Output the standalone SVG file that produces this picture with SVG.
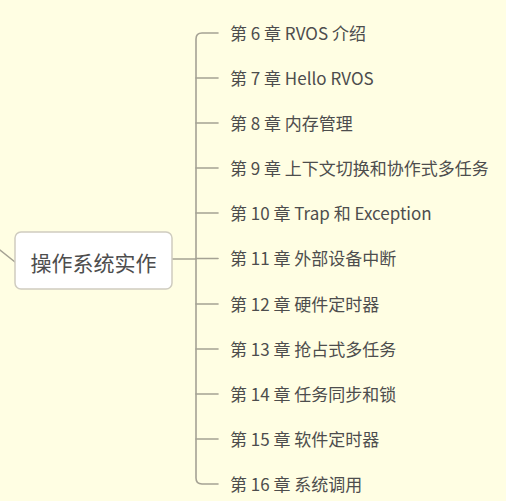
<svg xmlns="http://www.w3.org/2000/svg" width="506" height="501" viewBox="0 0 506 501">
<style>
.bg{fill:#fffee3}
.ln{fill:none;stroke:#a5a294;stroke-width:1.6;stroke-linecap:round}
.node rect{fill:#ffffff;stroke:#cfccc0;stroke-width:1.5}
.t{font-family:"Microsoft YaHei","Noto Sans CJK SC","Noto Sans",sans-serif;font-size:17px;fill:#4d4d4d}
.rt{font-family:"Microsoft YaHei","Noto Sans CJK SC","Noto Sans",sans-serif;font-size:21px;fill:#4d4d4d;text-anchor:middle}
</style>
<rect class="bg" x="0" y="0" width="506" height="501"/>
<g id="connectors">
<path class="ln" d="M0 250 L15 262"/>
<path class="ln" d="M172 259 L196 259"/>
<path class="ln" d="M218 33 L202 33 Q196 33 196 39 L196 478 Q196 484 202 484 L218 484"/>
<path class="ln" d="M196 78 L218 78"/>
<path class="ln" d="M196 123 L218 123"/>
<path class="ln" d="M196 168 L218 168"/>
<path class="ln" d="M196 213 L218 213"/>
<path class="ln" d="M196 258.5 L218 258.5"/>
<path class="ln" d="M196 304 L218 304"/>
<path class="ln" d="M196 349 L218 349"/>
<path class="ln" d="M196 394 L218 394"/>
<path class="ln" d="M196 439 L218 439"/>
</g>
<g id="root" class="node">
<rect x="15" y="232" width="157" height="57" rx="6"/>
<text class="rt" x="93.5" y="270.5">操作系统实作</text>
</g>
<g id="ch6"><text class="t" x="230" y="39.5">第 6 章 RVOS 介绍</text></g>
<g id="ch7"><text class="t" x="230" y="84.5">第 7 章 Hello RVOS</text></g>
<g id="ch8"><text class="t" x="230" y="129.5">第 8 章 内存管理</text></g>
<g id="ch9"><text class="t" x="230" y="174.5">第 9 章 上下文切换和协作式多任务</text></g>
<g id="ch10"><text class="t" x="230" y="219.5">第 10 章 Trap 和 Exception</text></g>
<g id="ch11"><text class="t" x="230" y="265">第 11 章 外部设备中断</text></g>
<g id="ch12"><text class="t" x="230" y="310.5">第 12 章 硬件定时器</text></g>
<g id="ch13"><text class="t" x="230" y="355.5">第 13 章 抢占式多任务</text></g>
<g id="ch14"><text class="t" x="230" y="400.5">第 14 章 任务同步和锁</text></g>
<g id="ch15"><text class="t" x="230" y="445.5">第 15 章 软件定时器</text></g>
<g id="ch16"><text class="t" x="230" y="490.5">第 16 章 系统调用</text></g>
</svg>
